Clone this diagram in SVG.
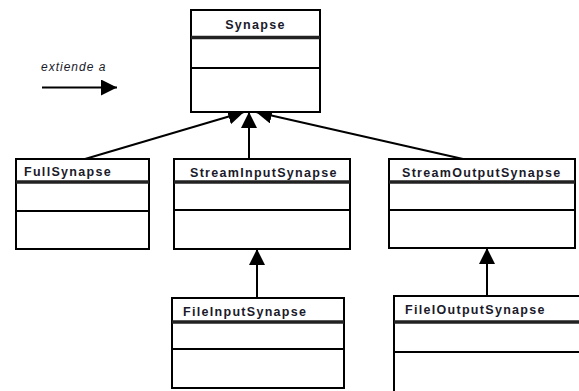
<svg xmlns="http://www.w3.org/2000/svg" width="579" height="391" viewBox="0 0 579 391">
  <style>
    .box { fill: #ffffff; stroke: #000000; stroke-width: 2; }
    .div { stroke: #000000; stroke-width: 2; }
    .hdr { stroke: #222222; stroke-width: 3.5; }
    .name { font-family: "Liberation Sans", Arial, sans-serif; font-weight: bold; font-size: 12.5px; letter-spacing: 1.3px; fill: #1a1a2a; }
    .edge { stroke: #000000; stroke-width: 2; fill: none; marker-end: url(#tri); }
    .legend { font-family: "Liberation Sans", Arial, sans-serif; font-style: italic; font-size: 12px; letter-spacing: 1px; fill: #1a1a2a; }
  </style>
  <defs>
    <marker id="tri" markerUnits="userSpaceOnUse" markerWidth="17" markerHeight="17" refX="16" refY="8" orient="auto">
      <path d="M0,0 L16,8 L0,16 Z" fill="#000000"/>
    </marker>
  </defs>
  <rect width="579" height="391" fill="#ffffff"/>

  <!-- legend -->
  <g id="legend">
    <text class="legend" x="41" y="71">extiende a</text>
    <line class="edge" x1="42" y1="87.5" x2="117" y2="87.5"/>
  </g>

  <!-- generalisation connectors -->
  <g id="connectors">
    <line class="edge" x1="85" y1="159" x2="244" y2="112"/>
    <line class="edge" x1="249" y1="159" x2="249" y2="112"/>
    <line class="edge" x1="463" y1="159" x2="256" y2="112"/>
    <line class="edge" x1="257" y1="298" x2="257" y2="249"/>
    <line class="edge" x1="487" y1="296" x2="487" y2="248"/>
  </g>

  <g id="Synapse">
    <rect class="box" x="191" y="10" width="129" height="102"/>
    <line class="hdr" x1="191" y1="37.5" x2="320" y2="37.5"/>
    <line class="div" x1="191" y1="68" x2="320" y2="68"/>
    <text class="name" x="255.5" y="28.5" text-anchor="middle">Synapse</text>
  </g>

  <g id="FullSynapse">
    <rect class="box" x="16" y="159" width="133" height="90"/>
    <line class="hdr" x1="16" y1="182" x2="149" y2="182"/>
    <line class="div" x1="16" y1="211" x2="149" y2="211"/>
    <text class="name" x="24" y="176">FullSynapse</text>
  </g>

  <g id="StreamInputSynapse">
    <rect class="box" x="174" y="159" width="176" height="90"/>
    <line class="hdr" x1="174" y1="182" x2="350" y2="182"/>
    <line class="div" x1="174" y1="210" x2="350" y2="210"/>
    <text class="name" x="190" y="177">StreamInputSynapse</text>
  </g>

  <g id="StreamOutputSynapse">
    <rect class="box" x="389" y="159" width="186" height="89"/>
    <line class="hdr" x1="389" y1="182" x2="575" y2="182"/>
    <line class="div" x1="389" y1="210" x2="575" y2="210"/>
    <text class="name" x="402" y="177">StreamOutputSynapse</text>
  </g>

  <g id="FileInputSynapse">
    <rect class="box" x="172" y="298" width="172" height="90"/>
    <line class="hdr" x1="172" y1="322" x2="344" y2="322"/>
    <line class="div" x1="172" y1="349" x2="344" y2="349"/>
    <text class="name" x="183" y="316">FileInputSynapse</text>
  </g>

  <g id="FileIOutputSynapse">
    <rect class="box" x="394" y="296" width="195" height="110"/>
    <line class="hdr" x1="394" y1="322" x2="589" y2="322"/>
    <line class="div" x1="394" y1="352" x2="589" y2="352"/>
    <text class="name" x="405" y="314">FileIOutputSynapse</text>
  </g>
</svg>
